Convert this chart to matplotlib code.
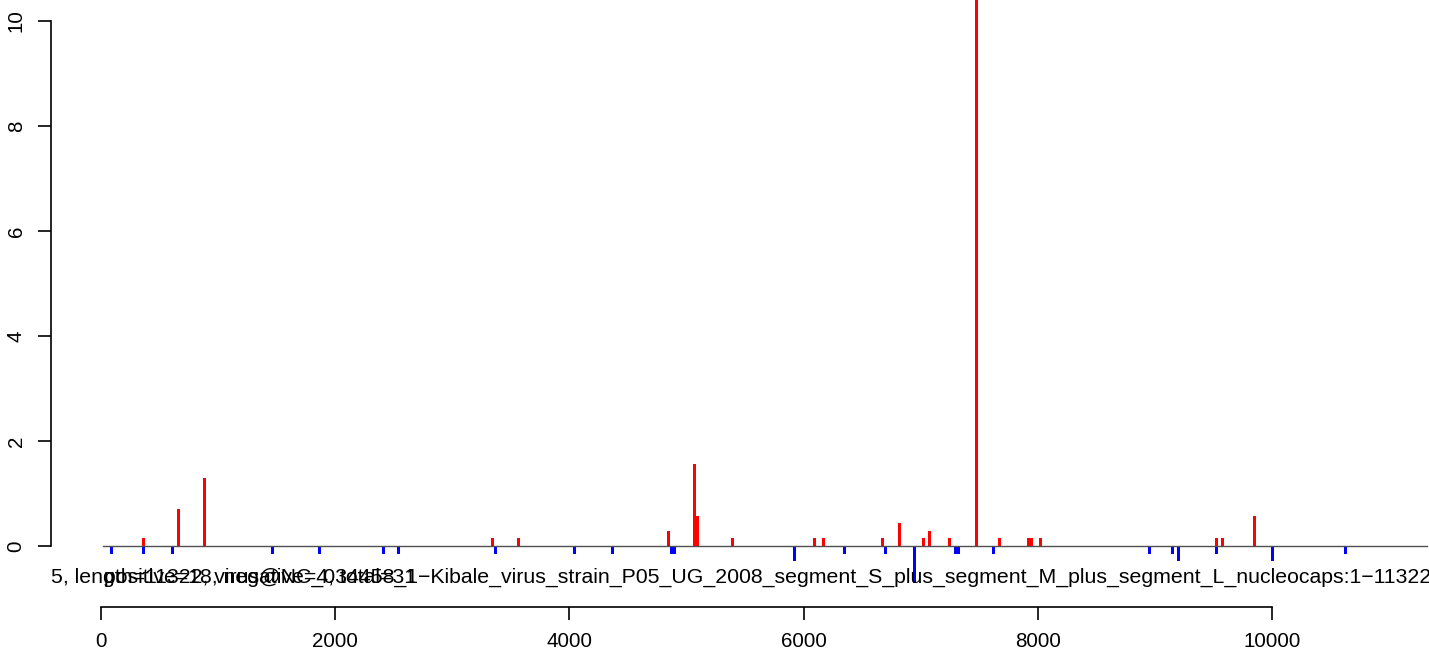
import matplotlib
matplotlib.use("Agg")
import matplotlib.pyplot as plt

# ---- data ----
pos_x = [364, 662, 884, 3342, 3564, 4844, 5069, 5092, 5390, 6090, 6167, 6671,
         6816, 7021, 7072, 7242, 7472, 7669, 7916, 7941, 8019, 9521, 9573, 9846]
pos_y = [0.143, 0.714, 1.286, 0.143, 0.143, 0.286, 1.571, 0.571, 0.143, 0.143,
         0.143, 0.143, 0.429, 0.143, 0.286, 0.143, 14.0, 0.143, 0.143, 0.143,
         0.143, 0.143, 0.143, 0.571]

neg_x = [94, 364, 611, 1465, 1866, 2412, 2540, 3368, 4042, 4366, 4873, 4898,
         5920, 6346, 6696, 6944, 7297, 7319, 7618, 8949, 9146, 9197, 9521, 9999,
         10622]
neg_y = [-0.143, -0.143, -0.143, -0.143, -0.143, -0.143, -0.143, -0.143, -0.143,
         -0.143, -0.143, -0.143, -0.286, -0.143, -0.143, -0.714, -0.143, -0.143,
         -0.143, -0.143, -0.143, -0.286, -0.143, -0.286, -0.143]

seq_start = 20
seq_end = 11322
x_ticks = [0, 2000, 4000, 6000, 8000, 10000]
y_ticks = [0, 2, 4, 6, 8, 10]

label_main = ("5, length=11322, virus@NC_034458_1\u2212Kibale_virus_strain_P05_UG_2008_"
              "segment_S_plus_segment_M_plus_segment_L_nucleocaps:1\u221211322")
label_counts = "positive=18, negative=4, total=31"

# ---- figure ----
W, H, DPI = 1429, 658, 100
plt.rcParams['font.family'] = ['Liberation Sans', 'DejaVu Sans']
fs = 14.76
fs_text = 15.3
fig = plt.figure(figsize=(W / DPI, H / DPI), dpi=DPI)
left_px, bottom_px, top_px = 50.7, 607.0, 0.0
ax = fig.add_axes([left_px / W, (H - bottom_px) / H, (W - left_px) / W,
                   (bottom_px - top_px) / H])

ax.bar(pos_x, pos_y, width=25, color='#FF0000', linewidth=0, zorder=2)
ax.bar(neg_x, neg_y, width=25, color='#0000FF', linewidth=0, zorder=2)
ax.plot([seq_start, seq_end], [0, 0], color='#505050', linewidth=1.0, zorder=3)

ax.set_xlim(-427, 11336)
ax.set_ylim(-1.162, 10.4)

for s in ['top', 'right']:
    ax.spines[s].set_visible(False)
lw = 1.2
ax.spines['left'].set_bounds(0, 10)
ax.spines['bottom'].set_bounds(0, 10000)
ax.spines['left'].set_linewidth(lw)
ax.spines['bottom'].set_linewidth(lw)
ax.set_xticks(x_ticks)
ax.set_yticks(y_ticks)
ax.set_xticklabels([str(v) for v in x_ticks])
ax.set_yticklabels([str(v) for v in y_ticks])
ax.tick_params(axis='both', direction='out', length=9.4, width=lw,
               labelsize=fs, pad=8.6, colors='black')
ax.tick_params(axis='y', labelrotation=90)
for lab in ax.get_yticklabels():
    lab.set_va('center')

ax.text(-427, -0.705, label_main, fontsize=fs_text, ha='left', va='baseline',
        clip_on=True, zorder=4)
ax.text(25, -0.705, label_counts, fontsize=fs_text, ha='left', va='baseline',
        clip_on=True, zorder=4)

fig.savefig('out.png', dpi=DPI)
